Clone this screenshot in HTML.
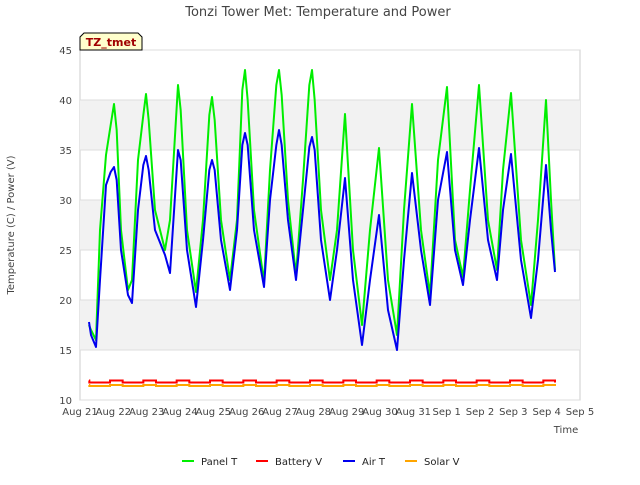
<!DOCTYPE html>
<html><head><meta charset="utf-8"><style>
body{margin:0;background:#fff;font-family:"Liberation Sans","DejaVu Sans",sans-serif}
svg text{font-family:"DejaVu Sans","Liberation Sans",sans-serif}
</style></head><body>
<svg id="c" width="640" height="480">
<rect x="0" y="0" width="640" height="480" fill="#fff"/>
<text x="318" y="16" font-size="13" fill="#444" text-anchor="middle">Tonzi Tower Met: Temperature and Power</text>
<g id="grid"></g><g id="axes"></g><g id="series"></g>
<text x="14" y="225" font-size="10" fill="#444" text-anchor="middle" transform="rotate(-90 14 225)">Temperature (C) / Power (V)</text>
<text x="566" y="433" font-size="10" fill="#444" text-anchor="middle">Time</text>
<g>
<path d="M80,50 L80,37 L84,33 L138,33 L142,37 L142,50 Z" fill="#ffffcc" stroke="#000"/>
<text x="111" y="46" font-size="11" font-weight="bold" fill="#a00000" text-anchor="middle">TZ_tmet</text></g>
<g id="legend"></g>
</svg>
<script>
const days=[0.27,0.33,0.48,0.6,0.78,0.92,1.02,1.1,1.23,1.44,1.56,1.74,1.9,1.98,2.06,2.25,2.55,2.7,2.94,3.02,3.21,3.48,3.69,3.88,3.96,4.04,4.23,4.5,4.71,4.87,4.95,5.03,5.22,5.52,5.7,5.89,5.97,6.05,6.24,6.48,6.69,6.88,6.96,7.04,7.23,7.5,7.71,7.95,8.19,8.46,8.7,8.97,9.24,9.51,9.72,9.96,10.23,10.5,10.74,11.01,11.25,11.49,11.7,11.97,12.24,12.51,12.69,12.93,13.23,13.53,13.74,13.98,14.13,14.25];
const panelT=[17.5,17,16,27,34.5,37.5,39.6,37,27,21,22,34,38.5,40.6,38,29,25,28,41.5,39,27,20.8,28,38.5,40.3,38,28,22,28,41,43,40,29,21.8,33,41.5,43,40.5,30,22.5,32,41.5,43,40,29,22,27,38.6,25,17.5,27,35.2,22,16.5,29,39.6,27,20.5,34,41.3,26,22.3,31,41.5,28,23,33,40.7,26,19.5,28,40,30,23];
const airT=[17.8,16.5,15.3,22,31.5,32.8,33.3,32,25,20.5,19.7,29,33.5,34.4,33,27,24.5,22.7,35,34,25,19.3,26,33,34,33,26,21,27,35.5,36.7,35.5,27,21.3,30,35.5,37,35.5,28,22,29,35.3,36.3,35,26,20,25,32.2,22,15.5,22,28.5,19,15,24,32.7,25,19.5,30,34.8,25,21.5,28,35.2,26,22,29,34.6,24,18.2,24,33.5,27,22.8];
const battHigh=11.95, battLow=11.75, solarHigh=11.5, solarLow=11.4;
const yTicks=[10,15,20,25,30,35,40,45];
const xLabels=["Aug 21","Aug 22","Aug 23","Aug 24","Aug 25","Aug 26","Aug 27","Aug 28","Aug 29","Aug 30","Aug 31","Sep 1","Sep 2","Sep 3","Sep 4","Sep 5"];
const X0=80,X1=580,Y0=400,Y1=50;
const xs=d=>X0+d*(X1-X0)/15;
const ys=v=>Y0-(v-10)*(Y0-Y1)/35;
const NS="http://www.w3.org/2000/svg";
function mk(tag,attrs,parent){const e=document.createElementNS(NS,tag);for(const k in attrs)e.setAttribute(k,attrs[k]);parent.appendChild(e);return e;}
const grid=document.getElementById('grid'),axes=document.getElementById('axes'),ser=document.getElementById('series'),leg=document.getElementById('legend');
mk('rect',{x:X0,y:Y1,width:X1-X0,height:Y0-Y1,fill:'#fff',stroke:'#ccc'},grid);
for(let i=1;i<yTicks.length-1;i+=2){const r=mk('rect',{x:X0,y:ys(yTicks[i+1]),width:X1-X0,height:ys(yTicks[i])-ys(yTicks[i+1]),fill:'#f2f2f2'},grid);

}
yTicks.forEach(v=>{mk('line',{x1:X0,x2:X1,y1:ys(v),y2:ys(v),stroke:'#ddd'},grid);
const t=mk('text',{x:X0-8,y:ys(v)+4,'font-size':10,fill:'#444','text-anchor':'end'},axes);t.textContent=v;

});
xLabels.forEach((l,i)=>{const t=mk('text',{x:xs(i),y:Y0+15,'font-size':10,fill:'#444','text-anchor':'middle'},axes);t.textContent=l;

});
function line(vals,color,name){const p=mk('polyline',{points:days.map((d,i)=>xs(d)+','+ys(vals[i])).join(' '),fill:'none',stroke:color,'stroke-width':2,'stroke-linejoin':'round'},ser);

}
function step(hi,lo,color,name){let pts=[];const start=0.27,end=14.25;
for(let d=0;d<15;d++){const s1=d-0.1,s2=d+0.28,b=d+0.9;
pts.push([Math.max(start,s1),hi],[Math.min(end,s2),hi],[Math.min(end,s2),lo],[Math.min(end,b),lo]);}
pts=pts.filter(p=>p[0]>=start&&p[0]<=end);
const p=mk('polyline',{points:pts.map(q=>xs(q[0])+','+ys(q[1])).join(' '),fill:'none',stroke:color,'stroke-width':2},ser);

}
step(solarHigh,solarLow,'#ffa500','solar-v-line');
step(battHigh,battLow,'#ff0000','battery-v-line');
line(panelT,'#00ee00','panel-t-line');
line(airT,'#0000ee','air-t-line');
[["Panel T","#00ee00",182],["Battery V","#ff0000",256],["Air T","#0000ee",343],["Solar V","#ffa500",405]].forEach(e=>{
const g=mk('g',{},leg);


mk('line',{x1:e[2],x2:e[2]+12,y1:461,y2:461,stroke:e[1],'stroke-width':2},g);
const t=mk('text',{x:e[2]+19,y:465,'font-size':10,fill:'#222'},g);t.textContent=e[0];});
</script>
</body></html>
